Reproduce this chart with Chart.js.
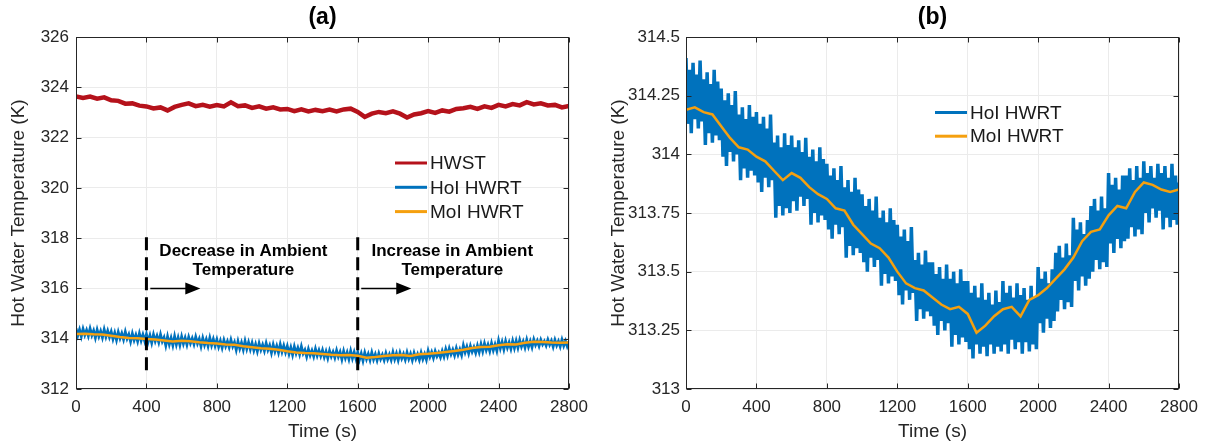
<!DOCTYPE html>
<html lang="en">
<head>
<meta charset="utf-8" />
<title>Hot Water Temperature</title>
<script src="https://cdn.jsdelivr.net/npm/chart.js"></script>
<style>
  html, body { margin: 0; padding: 0; background: #fff; }
  #wrap { position: relative; width: 1207px; height: 447px; }
  .panel { position: absolute; top: 0; height: 447px; }
  #pa { left: 0; width: 600px; }
  #pb { left: 600px; width: 607px; }
</style>
</head>
<body>
<div id="wrap">
  <div class="panel" id="pa"><canvas id="chartA"></canvas></div>
  <div class="panel" id="pb"><canvas id="chartB"></canvas></div>
</div>

<script>
// ---- data ----
const timeTicks = [0, 400, 800, 1200, 1600, 2000, 2400, 2800];
const yTicksA = [312, 314, 316, 318, 320, 322, 324, 326];
const yTicksB = [313, 313.25, 313.5, 313.75, 314, 314.25, 314.5];

// HWST, sampled every 40 s
const timeHWST = [
  0, 40, 80, 120, 160, 200, 240, 280, 320, 360,
  400, 440, 480, 520, 560, 600, 640, 680, 720, 760,
  800, 840, 880, 920, 960, 1000, 1040, 1080, 1120, 1160,
  1200, 1240, 1280, 1320, 1360, 1400, 1440, 1480, 1520, 1560,
  1600, 1640, 1680, 1720, 1760, 1800, 1840, 1880, 1920, 1960,
  2000, 2040, 2080, 2120, 2160, 2200, 2240, 2280, 2320, 2360,
  2400, 2440, 2480, 2520, 2560, 2600, 2640, 2680, 2720, 2760,
  2800
];
const hwst = [
  323.64, 323.58, 323.63, 323.55, 323.60, 323.48, 323.46, 323.35, 323.36, 323.27,
  323.24, 323.16, 323.20, 323.08, 323.22, 323.30, 323.36, 323.25, 323.30, 323.23,
  323.29, 323.24, 323.40, 323.25, 323.28, 323.18, 323.24, 323.15, 323.20, 323.12,
  323.14, 323.05, 323.12, 323.04, 323.10, 323.05, 323.11, 323.04, 323.12, 323.15,
  323.02, 322.82, 322.95, 323.02, 322.97, 323.04, 322.95, 322.80, 322.92, 322.97,
  323.05, 322.98, 323.08, 323.03, 323.14, 323.17, 323.22, 323.14, 323.24, 323.18,
  323.30, 323.24, 323.33, 323.28, 323.41, 323.32, 323.36, 323.28, 323.30, 323.20,
  323.26
];

// HoI HWRT, sampled every 10 s (fast oscillation)
const timeHoI = [
  0, 10, 20, 30, 40, 50, 60, 70, 80, 90,
  100, 110, 120, 130, 140, 150, 160, 170, 180, 190,
  200, 210, 220, 230, 240, 250, 260, 270, 280, 290,
  300, 310, 320, 330, 340, 350, 360, 370, 380, 390,
  400, 410, 420, 430, 440, 450, 460, 470, 480, 490,
  500, 510, 520, 530, 540, 550, 560, 570, 580, 590,
  600, 610, 620, 630, 640, 650, 660, 670, 680, 690,
  700, 710, 720, 730, 740, 750, 760, 770, 780, 790,
  800, 810, 820, 830, 840, 850, 860, 870, 880, 890,
  900, 910, 920, 930, 940, 950, 960, 970, 980, 990,
  1000, 1010, 1020, 1030, 1040, 1050, 1060, 1070, 1080, 1090,
  1100, 1110, 1120, 1130, 1140, 1150, 1160, 1170, 1180, 1190,
  1200, 1210, 1220, 1230, 1240, 1250, 1260, 1270, 1280, 1290,
  1300, 1310, 1320, 1330, 1340, 1350, 1360, 1370, 1380, 1390,
  1400, 1410, 1420, 1430, 1440, 1450, 1460, 1470, 1480, 1490,
  1500, 1510, 1520, 1530, 1540, 1550, 1560, 1570, 1580, 1590,
  1600, 1610, 1620, 1630, 1640, 1650, 1660, 1670, 1680, 1690,
  1700, 1710, 1720, 1730, 1740, 1750, 1760, 1770, 1780, 1790,
  1800, 1810, 1820, 1830, 1840, 1850, 1860, 1870, 1880, 1890,
  1900, 1910, 1920, 1930, 1940, 1950, 1960, 1970, 1980, 1990,
  2000, 2010, 2020, 2030, 2040, 2050, 2060, 2070, 2080, 2090,
  2100, 2110, 2120, 2130, 2140, 2150, 2160, 2170, 2180, 2190,
  2200, 2210, 2220, 2230, 2240, 2250, 2260, 2270, 2280, 2290,
  2300, 2310, 2320, 2330, 2340, 2350, 2360, 2370, 2380, 2390,
  2400, 2410, 2420, 2430, 2440, 2450, 2460, 2470, 2480, 2490,
  2500, 2510, 2520, 2530, 2540, 2550, 2560, 2570, 2580, 2590,
  2600, 2610, 2620, 2630, 2640, 2650, 2660, 2670, 2680, 2690,
  2700, 2710, 2720, 2730, 2740, 2750, 2760, 2770, 2780, 2790,
  2800
];
const hoiHWRT = [
  314.41, 314.13, 314.36, 314.09, 314.39, 314.15, 314.34, 314.11, 314.40, 314.14,
  314.32, 314.04, 314.35, 314.09, 314.30, 314.05, 314.36, 314.08, 314.31, 314.06,
  314.28, 313.99, 314.23, 313.95, 314.26, 314.01, 314.21, 313.97, 314.27, 314.00,
  314.17, 313.89, 314.20, 313.94, 314.15, 313.90, 314.21, 313.93, 314.16, 313.91,
  314.18, 313.88, 314.13, 313.84, 314.16, 313.90, 314.11, 313.86, 314.17, 313.89,
  314.05, 313.73, 314.08, 313.78, 314.03, 313.74, 314.09, 313.77, 314.04, 313.75,
  314.08, 313.80, 314.03, 313.76, 314.06, 313.82, 314.01, 313.78, 314.07, 313.81,
  313.99, 313.70, 314.02, 313.75, 313.97, 313.71, 314.03, 313.74, 313.98, 313.72,
  313.96, 313.68, 313.91, 313.64, 313.94, 313.70, 313.89, 313.66, 313.95, 313.69,
  313.86, 313.56, 313.89, 313.61, 313.84, 313.57, 313.90, 313.60, 313.85, 313.58,
  313.83, 313.54, 313.78, 313.50, 313.81, 313.56, 313.76, 313.52, 313.82, 313.55,
  313.73, 313.44, 313.76, 313.49, 313.71, 313.45, 313.77, 313.48, 313.72, 313.46,
  313.70, 313.40, 313.65, 313.36, 313.68, 313.42, 313.63, 313.38, 313.69, 313.41,
  313.55, 313.29, 313.58, 313.34, 313.53, 313.30, 313.59, 313.33, 313.54, 313.31,
  313.54, 313.27, 313.49, 313.23, 313.52, 313.29, 313.47, 313.25, 313.53, 313.28,
  313.47, 313.18, 313.50, 313.23, 313.45, 313.19, 313.51, 313.22, 313.46, 313.20,
  313.46, 313.17, 313.41, 313.13, 313.44, 313.19, 313.39, 313.15, 313.45, 313.18,
  313.38, 313.14, 313.41, 313.19, 313.36, 313.15, 313.42, 313.18, 313.37, 313.16,
  313.46, 313.19, 313.41, 313.15, 313.44, 313.21, 313.39, 313.17, 313.45, 313.20,
  313.40, 313.15, 313.43, 313.20, 313.38, 313.16, 313.44, 313.19, 313.39, 313.17,
  313.52, 313.28, 313.47, 313.24, 313.50, 313.30, 313.45, 313.26, 313.51, 313.29,
  313.58, 313.33, 313.61, 313.38, 313.56, 313.34, 313.62, 313.37, 313.57, 313.35,
  313.73, 313.46, 313.68, 313.42, 313.71, 313.48, 313.66, 313.44, 313.72, 313.47,
  313.78, 313.50, 313.81, 313.55, 313.76, 313.51, 313.82, 313.54, 313.77, 313.52,
  313.92, 313.62, 313.87, 313.58, 313.90, 313.64, 313.85, 313.60, 313.91, 313.63,
  313.91, 313.64, 313.94, 313.69, 313.89, 313.65, 313.95, 313.68, 313.90, 313.66,
  313.97, 313.75, 313.92, 313.71, 313.95, 313.77, 313.90, 313.73, 313.96, 313.76,
  313.92, 313.68, 313.95, 313.73, 313.90, 313.69, 313.96, 313.72, 313.91, 313.70,
  313.88
];

// MoI HWRT, sampled every 50 s
const timeMoI = [
  0, 50, 100, 150, 200, 250, 300, 350, 400, 450,
  500, 550, 600, 650, 700, 750, 800, 850, 900, 950,
  1000, 1050, 1100, 1150, 1200, 1250, 1300, 1350, 1400, 1450,
  1500, 1550, 1600, 1650, 1700, 1750, 1800, 1850, 1900, 1950,
  2000, 2050, 2100, 2150, 2200, 2250, 2300, 2350, 2400, 2450,
  2500, 2550, 2600, 2650, 2700, 2750, 2800
];
const moiHWRT = [
  314.19, 314.20, 314.18, 314.17, 314.12, 314.07, 314.03, 314.02, 313.99, 313.97,
  313.93, 313.89, 313.92, 313.90, 313.86, 313.83, 313.81, 313.77, 313.76, 313.70,
  313.66, 313.62, 313.60, 313.56, 313.50, 313.45, 313.43, 313.42, 313.39, 313.36,
  313.34, 313.35, 313.32, 313.24, 313.27, 313.31, 313.34, 313.35, 313.31, 313.38,
  313.40, 313.43, 313.47, 313.51, 313.56, 313.63, 313.67, 313.68, 313.74, 313.78,
  313.77, 313.84, 313.88, 313.87, 313.85, 313.84, 313.85
];

// ambient change markers in (a)
const markerTimes = [400, 1600];
const markerRange = [312.75, 318.05];

// ---- styling ----
const ink = '#262626';
const gridColor = '#ebebeb';
const red = '#b5121b';
const blue = '#0072bd';
const orange = '#f5a00f';

Chart.defaults.font.family = "'Liberation Sans', Arial, sans-serif";
Chart.defaults.color = ink;

function series(xs, ys) {
    return xs.map((x, i) => ({ x: x, y: ys[i] }));
}

// frame, inward ticks, title, legend and arrows
const framePlugin = {
    id: 'frame',
    afterDatasetsDraw(chart, args, opts) {
        const ctx = chart.ctx;
        const a = chart.chartArea;
        const xs = chart.scales.x, ys = chart.scales.y;
        ctx.save();

        // arrows
        (opts.arrows || []).forEach(ar => {
            const x0 = xs.getPixelForValue(ar.from);
            const x1 = xs.getPixelForValue(ar.to);
            const y = ys.getPixelForValue(ar.y);
            ctx.strokeStyle = '#000';
            ctx.lineWidth = 1.5;
            ctx.beginPath();
            ctx.moveTo(x0, y);
            ctx.lineTo(x1 - 12, y);
            ctx.stroke();
            ctx.fillStyle = '#000';
            ctx.beginPath();
            ctx.moveTo(x1, y);
            ctx.lineTo(x1 - 15, y - 6);
            ctx.lineTo(x1 - 15, y + 6);
            ctx.closePath();
            ctx.fill();
        });

        // annotation text
        ctx.fillStyle = '#000';
        ctx.font = "bold 17px 'Liberation Sans', Arial, sans-serif";
        ctx.textAlign = 'center';
        ctx.textBaseline = 'middle';
        (opts.notes || []).forEach(n => {
            ctx.fillText(n.text, xs.getPixelForValue(n.x), ys.getPixelForValue(n.y));
        });

        // box
        const L = Math.round(a.left) + 0.5, R = Math.round(a.right) - 0.5;
        const T = Math.round(a.top) + 0.5, B = Math.round(a.bottom) - 0.5;
        ctx.strokeStyle = ink;
        ctx.lineWidth = 1;
        ctx.strokeRect(L, T, R - L, B - T);

        // inward ticks
        ctx.beginPath();
        xs.ticks.forEach(t => {
            const x = Math.round(xs.getPixelForValue(t.value)) + 0.5;
            ctx.moveTo(x, B); ctx.lineTo(x, B - 5);
            ctx.moveTo(x, T); ctx.lineTo(x, T + 5);
        });
        ys.ticks.forEach(t => {
            const y = Math.round(ys.getPixelForValue(t.value)) + 0.5;
            ctx.moveTo(L, y); ctx.lineTo(L + 5, y);
            ctx.moveTo(R, y); ctx.lineTo(R - 5, y);
        });
        ctx.stroke();

        // title
        ctx.fillStyle = '#000';
        ctx.font = "bold 23px 'Liberation Sans', Arial, sans-serif";
        ctx.fillText(opts.title, (a.left + a.right) / 2, 18);

        // legend
        const lg = opts.legend;
        let row = 0;
        ctx.font = "19px 'Liberation Sans', Arial, sans-serif";
        ctx.textAlign = 'left';
        chart.data.datasets.forEach(ds => {
            if (ds.noLegend) return;
            const y = lg.y + row * lg.step;
            ctx.strokeStyle = ds.borderColor;
            ctx.lineWidth = 3;
            ctx.beginPath();
            ctx.moveTo(lg.x, y);
            ctx.lineTo(lg.x + 32, y);
            ctx.stroke();
            ctx.fillStyle = '#1a1a1a';
            ctx.fillText(ds.label, lg.x + 35, y + 1);
            row++;
        });

        ctx.restore();
    }
};

function makeOptions(cfg) {
    return {
        responsive: true,
        maintainAspectRatio: false,
        animation: false,
        events: [],
        layout: { padding: { top: 37, right: cfg.padRight, left: 0, bottom: 0 } },
        elements: { point: { radius: 0 }, line: { tension: 0 } },
        plugins: {
            legend: { display: false },
            tooltip: { enabled: false },
            title: { display: false },
            frame: cfg.frame
        },
        scales: {
            x: {
                type: 'linear',
                min: 0,
                max: 2800,
                afterBuildTicks: s => { s.ticks = timeTicks.map(v => ({ value: v })); },
                afterFit: s => { s.height = 58; },
                grid: { color: gridColor, drawTicks: false },
                border: { display: false },
                ticks: { padding: 8, color: ink, font: { size: 17 }, maxRotation: 0, autoSkip: false, callback: v => String(v) },
                title: { display: true, text: 'Time (s)', color: ink, font: { size: 19 }, padding: { top: 0, bottom: 4 } }
            },
            y: {
                type: 'linear',
                min: cfg.yTicks[0],
                max: cfg.yTicks[cfg.yTicks.length - 1],
                afterBuildTicks: s => { s.ticks = cfg.yTicks.map(v => ({ value: v })); },
                afterFit: s => { s.width = cfg.yWidth; },
                grid: { color: gridColor, drawTicks: false },
                border: { display: false },
                ticks: { padding: cfg.yPad, color: ink, font: { size: 17 }, autoSkip: false, callback: v => String(v) },
                title: { display: true, text: 'Hot Water Temperature (K)', color: ink, font: { size: 19 }, padding: { top: 7, bottom: 0 } }
            }
        }
    };
}

// ---- chart (a) ----
// lower "order" is drawn on top
const markerSets = markerTimes.map(t => ({
    label: 'marker',
    noLegend: true,
    order: 0,
    data: [{ x: t, y: markerRange[0] }, { x: t, y: markerRange[1] }],
    borderColor: '#000',
    borderWidth: 3,
    borderDash: [13, 7]
}));

new Chart(document.getElementById('chartA'), {
    type: 'line',
    data: {
        datasets: [
            { label: 'HWST', data: series(timeHWST, hwst), borderColor: red, borderWidth: 4.5, order: 3 },
            { label: 'HoI HWRT', data: series(timeHoI, hoiHWRT), borderColor: blue, borderWidth: 2.8, order: 2 },
            { label: 'MoI HWRT', data: series(timeMoI, moiHWRT), borderColor: orange, borderWidth: 2.5, order: 1 }
        ].concat(markerSets)
    },
    options: makeOptions({
        padRight: 31,
        yWidth: 76,
        yPad: 7,
        yTicks: yTicksA,
        frame: {
            title: '(a)',
            legend: { x: 395, y: 163, step: 24.3 },
            arrows: [
                { from: 422, to: 706, y: 316 },
                { from: 1620, to: 1904, y: 316 }
            ],
            notes: [
                { text: 'Decrease in Ambient', x: 951, y: 317.49 },
                { text: 'Temperature', x: 951, y: 316.73 },
                { text: 'Increase in Ambient', x: 2137, y: 317.49 },
                { text: 'Temperature', x: 2137, y: 316.73 }
            ]
        }
    }),
    plugins: [framePlugin]
});

// ---- chart (b) ----
new Chart(document.getElementById('chartB'), {
    type: 'line',
    data: {
        datasets: [
            { label: 'HoI HWRT', data: series(timeHoI, hoiHWRT), borderColor: blue, borderWidth: 3.5, order: 2 },
            { label: 'MoI HWRT', data: series(timeMoI, moiHWRT), borderColor: orange, borderWidth: 2.5, order: 1 }
        ]
    },
    options: makeOptions({
        padRight: 28,
        yWidth: 86,
        yPad: 6,
        yTicks: yTicksB,
        frame: {
            title: '(b)',
            legend: { x: 335, y: 112.5, step: 23.7 }
        }
    }),
    plugins: [framePlugin]
});
</script>
</body>
</html>
